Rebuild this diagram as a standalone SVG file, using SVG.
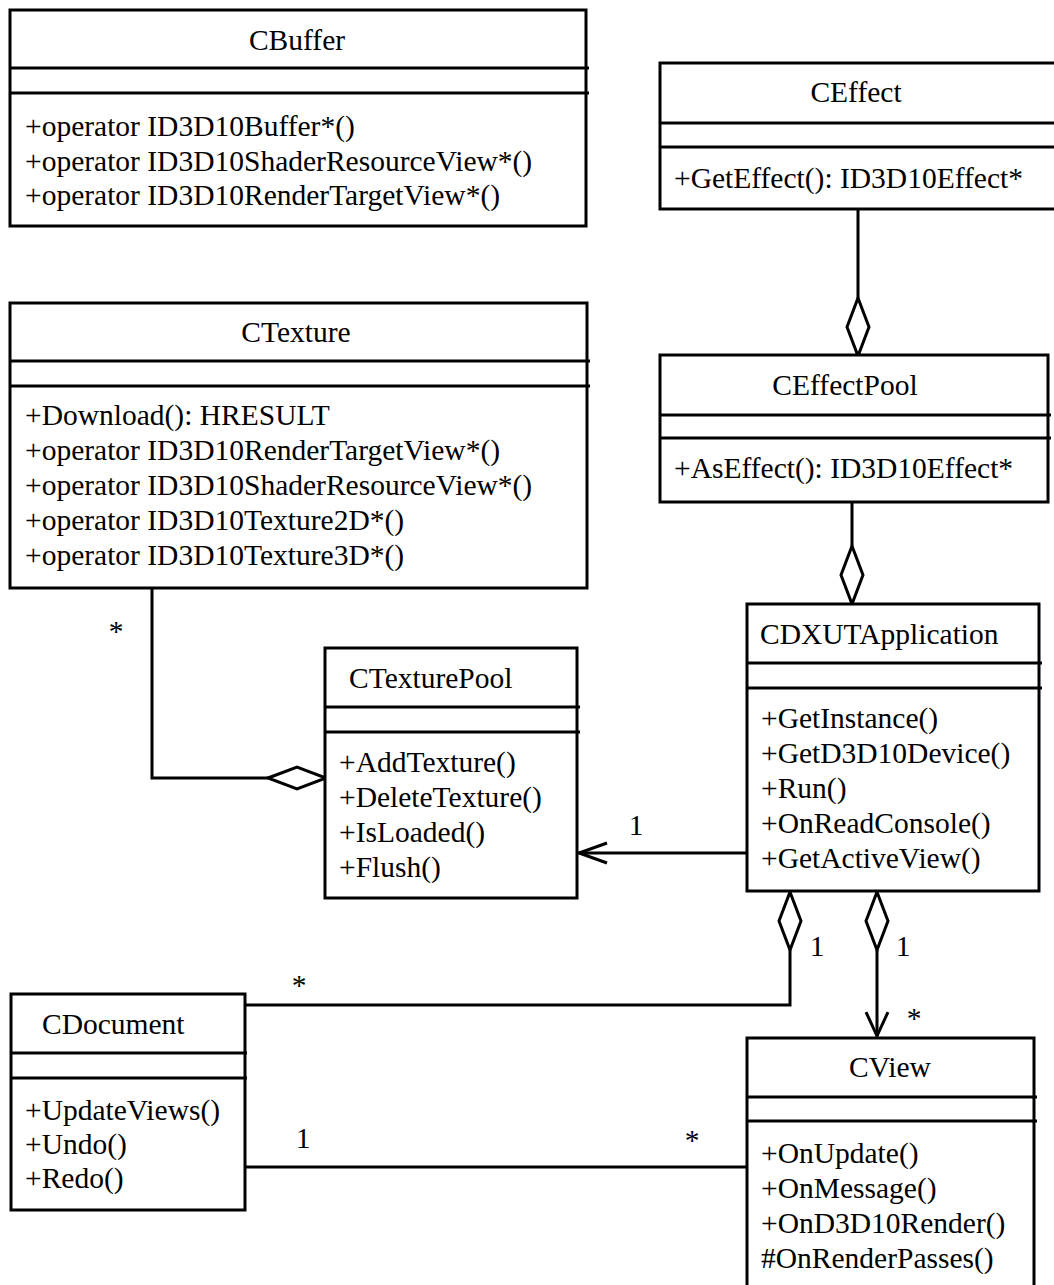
<svg xmlns="http://www.w3.org/2000/svg" width="1054" height="1285" viewBox="0 0 1054 1285">
<style>
  .box { fill: #fff; stroke: #000; stroke-width: 3; }
  .sep { stroke: #000; stroke-width: 3; }
  .ln { fill: none; stroke: #000; stroke-width: 3; }
  .dia { fill: #fff; stroke: #000; stroke-width: 3; stroke-linejoin: miter; }
  text { font-family: "Liberation Serif", "Times New Roman", serif; font-size: 29.5px; fill: #000; }
  .c { text-anchor: middle; }
</style>
<rect width="1054" height="1285" fill="#fff"/>

<g id="connectors">
  <!-- CEffect - CEffectPool -->
  <line class="ln" x1="858" y1="210" x2="858" y2="298"/>
  <polygon class="dia" points="858,298 869,327 858,356 847,327"/>
  <!-- CEffectPool - CDXUTApplication -->
  <line class="ln" x1="852" y1="503" x2="852" y2="546"/>
  <polygon class="dia" points="852,546 863,575 852,604 841,575"/>
  <!-- CTexture - CTexturePool -->
  <polyline class="ln" points="152,589 152,778 268,778"/>
  <polygon class="dia" points="268,778 297,767 326,778 297,789"/>
  <text class="c" x="116" y="641">*</text>
  <!-- CDXUTApplication -> CTexturePool -->
  <line class="ln" x1="747" y1="853" x2="579" y2="853"/>
  <polyline class="ln" points="607,843 579,853 607,863"/>
  <text class="c" x="636" y="835">1</text>
  <!-- CDXUTApplication - CDocument -->
  <polygon class="dia" points="790,892 801,921 790,950 779,921"/>
  <polyline class="ln" points="790,950 790,1005 246,1005"/>
  <text class="c" x="817" y="956">1</text>
  <text class="c" x="299" y="995">*</text>
  <!-- CDXUTApplication -> CView -->
  <polygon class="dia" points="877,892 888,921 877,950 866,921"/>
  <line class="ln" x1="877" y1="950" x2="877" y2="1036"/>
  <polyline class="ln" points="866,1012 877,1036 888,1012"/>
  <text class="c" x="903" y="956">1</text>
  <text class="c" x="914" y="1028">*</text>
  <!-- CDocument - CView -->
  <line class="ln" x1="246" y1="1167" x2="747" y2="1167"/>
  <text class="c" x="303" y="1148">1</text>
  <text class="c" x="692" y="1150">*</text>
</g>

<g id="CBuffer">
  <rect class="box" x="10" y="10" width="576" height="216"/>
  <line class="sep" x1="10" y1="68" x2="589" y2="68"/>
  <line class="sep" x1="10" y1="93" x2="589" y2="93"/>
  <text class="c" x="297" y="50">CBuffer</text>
  <text x="25" y="136">+operator ID3D10Buffer*()</text>
  <text x="25" y="171">+operator ID3D10ShaderResourceView*()</text>
  <text x="25" y="205">+operator ID3D10RenderTargetView*()</text>
</g>

<g id="CEffect">
  <rect class="box" x="660" y="63" width="397" height="146"/>
  <line class="sep" x1="660" y1="123" x2="1054" y2="123"/>
  <line class="sep" x1="660" y1="147" x2="1054" y2="147"/>
  <text class="c" x="856" y="102">CEffect</text>
  <text x="674" y="188">+GetEffect(): ID3D10Effect*</text>
</g>

<g id="CTexture">
  <rect class="box" x="10" y="303" width="577" height="285"/>
  <line class="sep" x1="10" y1="361" x2="590" y2="361"/>
  <line class="sep" x1="10" y1="386" x2="590" y2="386"/>
  <text class="c" x="296" y="342">CTexture</text>
  <text x="25" y="425">+Download(): HRESULT</text>
  <text x="25" y="460">+operator ID3D10RenderTargetView*()</text>
  <text x="25" y="495">+operator ID3D10ShaderResourceView*()</text>
  <text x="25" y="530">+operator ID3D10Texture2D*()</text>
  <text x="25" y="565">+operator ID3D10Texture3D*()</text>
</g>

<g id="CEffectPool">
  <rect class="box" x="660" y="355" width="388" height="147"/>
  <line class="sep" x1="660" y1="415" x2="1051" y2="415"/>
  <line class="sep" x1="660" y1="438" x2="1051" y2="438"/>
  <text class="c" x="845" y="395">CEffectPool</text>
  <text x="674" y="478">+AsEffect(): ID3D10Effect*</text>
</g>

<g id="CTexturePool">
  <rect class="box" x="325" y="648" width="252" height="250"/>
  <line class="sep" x1="325" y1="707" x2="580" y2="707"/>
  <line class="sep" x1="325" y1="732" x2="580" y2="732"/>
  <text x="349" y="688">CTexturePool</text>
  <text x="339" y="772">+AddTexture()</text>
  <text x="339" y="807">+DeleteTexture()</text>
  <text x="339" y="842">+IsLoaded()</text>
  <text x="339" y="877">+Flush()</text>
</g>

<g id="CDXUTApplication">
  <rect class="box" x="747" y="604" width="292" height="287"/>
  <line class="sep" x1="747" y1="663" x2="1042" y2="663"/>
  <line class="sep" x1="747" y1="688" x2="1042" y2="688"/>
  <text x="760" y="644">CDXUTApplication</text>
  <text x="761" y="728">+GetInstance()</text>
  <text x="761" y="763">+GetD3D10Device()</text>
  <text x="761" y="798">+Run()</text>
  <text x="761" y="833">+OnReadConsole()</text>
  <text x="761" y="868">+GetActiveView()</text>
</g>

<g id="CDocument">
  <rect class="box" x="11" y="994" width="234" height="216"/>
  <line class="sep" x1="11" y1="1053" x2="247" y2="1053"/>
  <line class="sep" x1="11" y1="1078" x2="247" y2="1078"/>
  <text x="42" y="1034">CDocument</text>
  <text x="25" y="1120">+UpdateViews()</text>
  <text x="25" y="1154">+Undo()</text>
  <text x="25" y="1188">+Redo()</text>
</g>

<g id="CView">
  <rect class="box" x="747" y="1038" width="287" height="260"/>
  <line class="sep" x1="747" y1="1097" x2="1037" y2="1097"/>
  <line class="sep" x1="747" y1="1121" x2="1037" y2="1121"/>
  <text class="c" x="890" y="1077">CView</text>
  <text x="761" y="1163">+OnUpdate()</text>
  <text x="761" y="1198">+OnMessage()</text>
  <text x="761" y="1233">+OnD3D10Render()</text>
  <text x="761" y="1268">#OnRenderPasses()</text>
</g>
</svg>
